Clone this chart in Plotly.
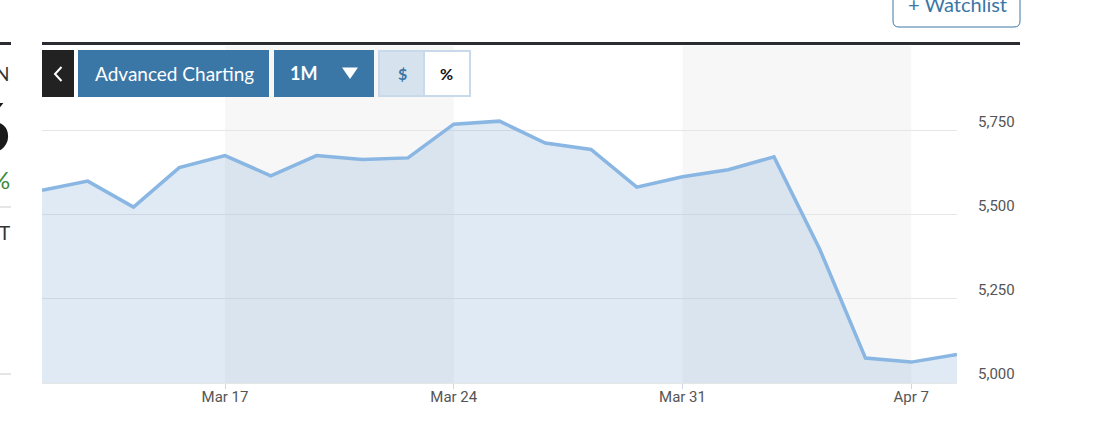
import plotly.graph_objects as go

# ---- data ----
dates = ["2025-03-11", "2025-03-12", "2025-03-13", "2025-03-14", "2025-03-17",
         "2025-03-18", "2025-03-19", "2025-03-20", "2025-03-21", "2025-03-24",
         "2025-03-25", "2025-03-26", "2025-03-27", "2025-03-28", "2025-03-31",
         "2025-04-01", "2025-04-02", "2025-04-03", "2025-04-04", "2025-04-07",
         "2025-04-08"]
closes = [5572, 5599, 5522, 5639, 5675, 5615, 5675, 5663, 5668, 5768,
          5777, 5712, 5693, 5581, 5612, 5633, 5671, 5397, 5074, 5062, 5085]

x_tick_dates = ["2025-03-17", "2025-03-24", "2025-03-31", "2025-04-07"]
x_tick_labels = ["Mar 17", "Mar 24", "Mar 31", "Apr 7"]
y_tick_values = [5000, 5250, 5500, 5750]
y_tick_labels = ["5,000", "5,250", "5,500", "5,750"]
band_starts = ["2025-03-17", "2025-03-31"]
band_ends = ["2025-03-24", "2025-04-07"]

# ---- layout geometry (page pixels; body margin removed by post_script) ----
W, H = 1094, 447
PL, PR, PT, PB = 42, 957, 46, 383          # plot box in page pixels
ML, MT = PL, PT
MR, MB = W - PR, H - PB
PW, PH = PR - PL, PB - PT


def pxx(px):
    return (px - PL) / PW


def pxy(py):
    return (PB - py) / PH


LINE_C = "#89b6e2"
BLUE = "#3a76a6"

fig = go.Figure()
fig.add_trace(go.Scatter(
    x=dates, y=closes, mode="lines",
    line=dict(color=LINE_C, width=3.5),
    fill="tozeroy", fillcolor="rgba(128,170,212,0.25)",
    hoverinfo="skip",
))

shapes = []
# weekly shaded bands
for s, e in zip(band_starts, band_ends):
    shapes.append(dict(type="rect", xref="x", yref="paper", x0=s, x1=e, y0=0, y1=1,
                       fillcolor="#f7f7f7", line=dict(width=0), layer="below"))

# top dark rule
shapes.append(dict(type="line", xref="paper", yref="paper", x0=pxx(42), x1=pxx(1020),
                   y0=pxy(43.5), y1=pxy(43.5), line=dict(color="#2a2c31", width=3)))
# left clipped page fragments
shapes.append(dict(type="line", xref="paper", yref="paper", x0=pxx(-5), x1=pxx(11),
                   y0=pxy(43.5), y1=pxy(43.5), line=dict(color="#2a2c31", width=3)))
for py in (207, 374):
    shapes.append(dict(type="line", xref="paper", yref="paper", x0=pxx(-5), x1=pxx(11),
                       y0=pxy(py), y1=pxy(py), line=dict(color="#cccccc", width=1)))


def box(x0, x1, y0, y1, fill, line_color=None, lw=0):
    return dict(type="rect", xref="paper", yref="paper",
                x0=pxx(x0), x1=pxx(x1), y0=pxy(y1), y1=pxy(y0),
                fillcolor=fill, line=dict(color=line_color or fill, width=lw), layer="above")


# toolbar buttons
shapes.append(box(42, 74, 50, 97, "#222222"))
shapes.append(box(78, 269, 50, 97, BLUE))
shapes.append(box(274, 374, 50, 97, BLUE))
shapes.append(box(379, 424, 51, 96, "#d6e3ef"))
shapes.append(box(424, 470, 51, 96, "#ffffff"))
shapes.append(dict(type="rect", xref="paper", yref="paper", x0=pxx(379), x1=pxx(470),
                   y0=pxy(96), y1=pxy(51), line=dict(color="#c8d9ea", width=2),
                   fillcolor="rgba(0,0,0,0)", layer="above"))
shapes.append(dict(type="line", xref="paper", yref="paper", x0=pxx(424), x1=pxx(424),
                   y0=pxy(96), y1=pxy(51), line=dict(color="#c8d9ea", width=2), layer="above"))
# back chevron
chev = "M {} {} L {} {} L {} {}".format(pxx(61.5), pxy(67), pxx(55), pxy(74), pxx(61.5), pxy(81))
shapes.append(dict(type="path", xref="paper", yref="paper", path=chev,
                   line=dict(color="#ffffff", width=2), layer="above"))
# dropdown triangle
tri = "M {} {} L {} {} L {} {} Z".format(pxx(342), pxy(67.5), pxx(358), pxy(67.5), pxx(350), pxy(79))
shapes.append(dict(type="path", xref="paper", yref="paper", path=tri,
                   fillcolor="#ffffff", line=dict(width=0), layer="above"))
# watchlist button (rounded bottom corners)
wl = ("M {a} {t} L {a} {b1} Q {a} {b} {a2} {b} L {c2} {b} Q {c} {b} {c} {b1} L {c} {t}"
      .format(a=pxx(893), c=pxx(1020), a2=pxx(899), c2=pxx(1014),
              t=pxy(-10), b1=pxy(21), b=pxy(27)))
shapes.append(dict(type="path", xref="paper", yref="paper", path=wl,
                   line=dict(color=BLUE, width=1), layer="above"))

annotations = []


def txt(text, px, py, size, color, family="Lato", xanchor="center", weight="normal"):
    annotations.append(dict(text=text, xref="paper", yref="paper", x=pxx(px), y=pxy(py),
                            xanchor=xanchor, yanchor="middle", showarrow=False,
                            font=dict(family=family, size=size, color=color, weight=weight)))


txt("Advanced Charting", 174, 73, 19, "#ffffff")
txt("1M", 303.5, 73, 18, "#ffffff", weight="bold")
txt("$", 402.5, 73, 16, BLUE, weight="bold")
txt("%", 446, 73, 16, "#111111", weight="bold")
txt("+ Watchlist", 957, 4, 20, BLUE)
# clipped left fragments
txt("N", 12, 73.5, 19, "#333333", xanchor="right")
txt("6", 12, 126, 66, "#1a1a1a", xanchor="right", weight="bold")
txt("%", 12, 179, 24, "#3c8a36", xanchor="right")
txt("T", 12, 232, 19, "#333333", xanchor="right")

fig.update_layout(
    width=W, height=H,
    margin=dict(l=ML, r=MR, t=MT, b=MB, pad=0),
    paper_bgcolor="#ffffff", plot_bgcolor="#ffffff",
    showlegend=False,
    shapes=shapes, annotations=annotations,
    hovermode=False,
    xaxis=dict(
        type="date", range=[dates[0], dates[-1]],
        rangebreaks=[dict(bounds=["sat", "mon"])],
        tickvals=x_tick_dates, ticktext=x_tick_labels,
        ticks="outside", ticklen=5, tickwidth=1, tickcolor="#ccd6eb",
        showgrid=False, zeroline=False,
        showline=True, linecolor="#e6e6e6", linewidth=1,
        ticklabelstandoff=-5,
        tickfont=dict(family="Roboto", size=15, color="#555555"),
        fixedrange=True,
    ),
    yaxis=dict(
        side="right", range=[5000, 6000],
        tickvals=y_tick_values, ticktext=y_tick_labels,
        showgrid=True, gridcolor="#e6e6e6", gridwidth=1,
        zeroline=False, showline=False, ticks="",
        ticklabelshift=-9, ticklabelstandoff=20,
        tickfont=dict(family="Roboto", size=15, color="#555555"),
        fixedrange=True,
    ),
)

fig.write_html(
    "out.html",
    config={"displayModeBar": False},
    post_script="document.body.style.margin='0';document.body.style.overflow='hidden';",
)
